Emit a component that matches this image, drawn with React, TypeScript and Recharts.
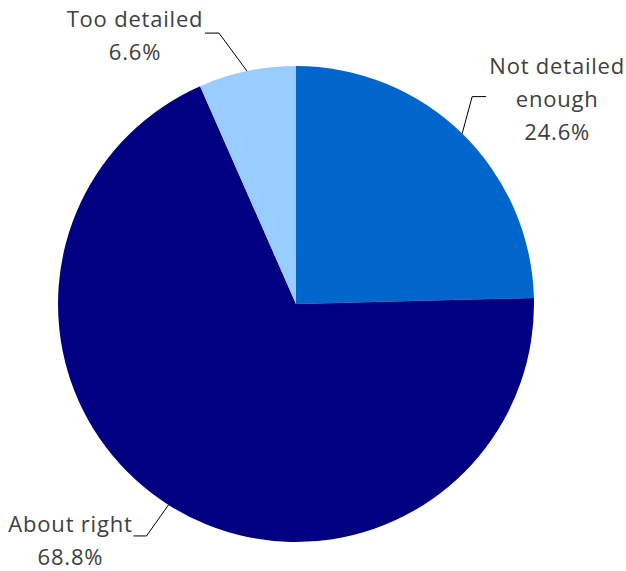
import { PieChart, Pie, Cell } from 'recharts';

const categories = ['Not detailed enough', 'About right', 'Too detailed'];
const shares = [24.6, 68.8, 6.6];
const labelLines = [['Not detailed', 'enough', '24.6%'], ['About right', '68.8%'], ['Too detailed', '6.6%']];

const COLORS = ['#0066CC', '#000080', '#99CCFF'];

// leader elbow offset from the arc, horizontal run, and text block offset from the elbow end
const LABEL_LAYOUT = [
  { ex: 10, ey: -37, run: 14, tx: 71, ty: -32 },
  { ex: -22, ey: 31, run: -13, tx: -63, ty: -13 },
  { ex: -28, ey: -38, run: -14, tx: -70, ty: -15 },
];

const data = categories.map((name, i) => ({ name, value: shares[i] }));

const RAD = Math.PI / 180;

function renderLabel(props: any) {
  const { cx, cy, midAngle, outerRadius, index } = props;
  const layout = LABEL_LAYOUT[index];
  const sx = cx + outerRadius * Math.cos(-midAngle * RAD);
  const sy = cy + outerRadius * Math.sin(-midAngle * RAD);
  const mx = sx + layout.ex;
  const my = sy + layout.ey;
  const hx = mx + layout.run;
  const tx = hx + layout.tx;
  const ty = my + layout.ty;
  const lines = labelLines[index];
  return (
    <g key={`lbl-${index}`}>
      <polyline points={`${sx},${sy} ${mx},${my} ${hx},${my}`} fill="none" stroke="#000" strokeWidth={1} />
      <text
        x={tx}
        y={ty}
        textAnchor="middle"
        dominantBaseline="central"
        fill="#404040"
        fontFamily="'Open Sans', sans-serif"
        fontSize={22}
        letterSpacing={0.8}
      >
        {lines.map((l, i) => (
          <tspan key={i} x={tx} dy={i === 0 ? 0 : 33}>
            {l}
          </tspan>
        ))}
      </text>
    </g>
  );
}

export default function App() {
  return (
    <div style={{ position: 'absolute', left: 0, top: 0, width: 626, height: 571, background: '#fff' }}>
      <PieChart width={626} height={571} margin={{ top: 0, right: 0, bottom: 0, left: 0 }}>
        <Pie
          data={data}
          dataKey="value"
          nameKey="name"
          cx={296}
          cy={304}
          outerRadius={238}
          startAngle={90}
          endAngle={-270}
          stroke="none"
          label={renderLabel}
          labelLine={false}
          isAnimationActive={false}
        >
          {data.map((d, i) => (
            <Cell key={d.name} fill={COLORS[i]} />
          ))}
        </Pie>
      </PieChart>
    </div>
  );
}
